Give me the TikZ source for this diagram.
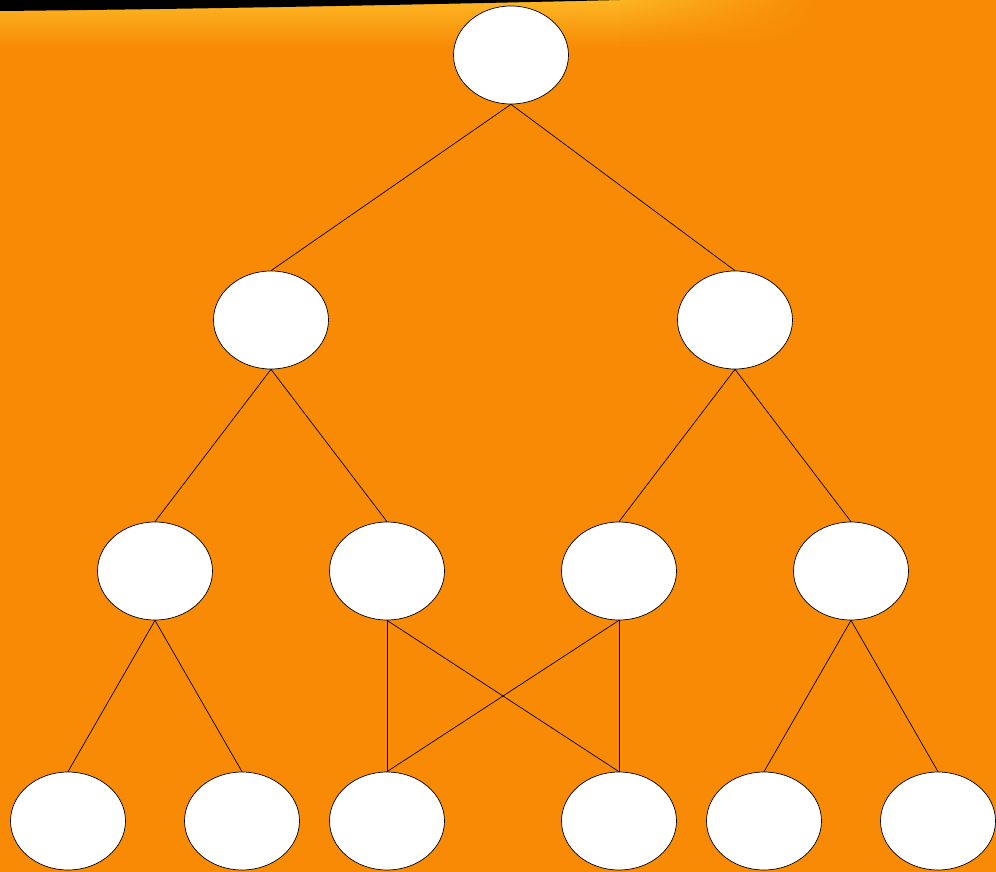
\documentclass[tikz,border=0pt]{standalone}
\usetikzlibrary{shapes.geometric}
\definecolor{bgorange}{RGB}{248,138,5}
\definecolor{glow}{RGB}{252,182,36}
\begin{document}
\begin{tikzpicture}[x=1pt,y=-1pt,
  nd/.style={ellipse,draw=black,fill=white,line width=0.7pt,minimum width=115pt,minimum height=98pt,inner sep=0pt},
  ln/.style={draw=black,line width=0.7pt}]
\fill[bgorange] (0,0) rectangle (996,872);
\useasboundingbox (0,0) rectangle (996,872);
% top glow
\shade[top color=glow,bottom color=bgorange] (0,8) -- (0,48) -- (620,48) -- (620,0) .. controls (400,5) and (200,7) .. (0,8) -- cycle;
\foreach \i in {0,...,49} {
  \shade[top color=glow,bottom color=bgorange,opacity={1-(\i+1)/51}] ({620+4*\i},0) rectangle ({624+4*\i},48);
}
% black band
\fill[black] (0,0) -- (0,11) .. controls (200,9) and (400,5) .. (620,0) -- cycle;
% nodes
\node[nd] (r) at (511,55) {};
\node[nd] (a) at (271,320) {};
\node[nd] (b) at (735,320) {};
\node[nd] (a1) at (155,571) {};
\node[nd] (a2) at (387,571) {};
\node[nd] (b1) at (619,571) {};
\node[nd] (b2) at (851,571) {};
\node[nd] (l1) at (68,821) {};
\node[nd] (l2) at (242,821) {};
\node[nd] (l3) at (387,821) {};
\node[nd] (l4) at (619,821) {};
\node[nd] (l5) at (764,821) {};
\node[nd] (l6) at (938,821) {};
% edges
\draw[ln] (r.south) -- (a.north);
\draw[ln] (r.south) -- (b.north);
\draw[ln] (a.south) -- (a1.north);
\draw[ln] (a.south) -- (a2.north);
\draw[ln] (b.south) -- (b1.north);
\draw[ln] (b.south) -- (b2.north);
\draw[ln] (a1.south) -- (l1.north);
\draw[ln] (a1.south) -- (l2.north);
\draw[ln] (a2.south) -- (l3.north);
\draw[ln] (a2.south) -- (l4.north);
\draw[ln] (b1.south) -- (l3.north);
\draw[ln] (b1.south) -- (l4.north);
\draw[ln] (b2.south) -- (l5.north);
\draw[ln] (b2.south) -- (l6.north);
\end{tikzpicture}
\end{document}
